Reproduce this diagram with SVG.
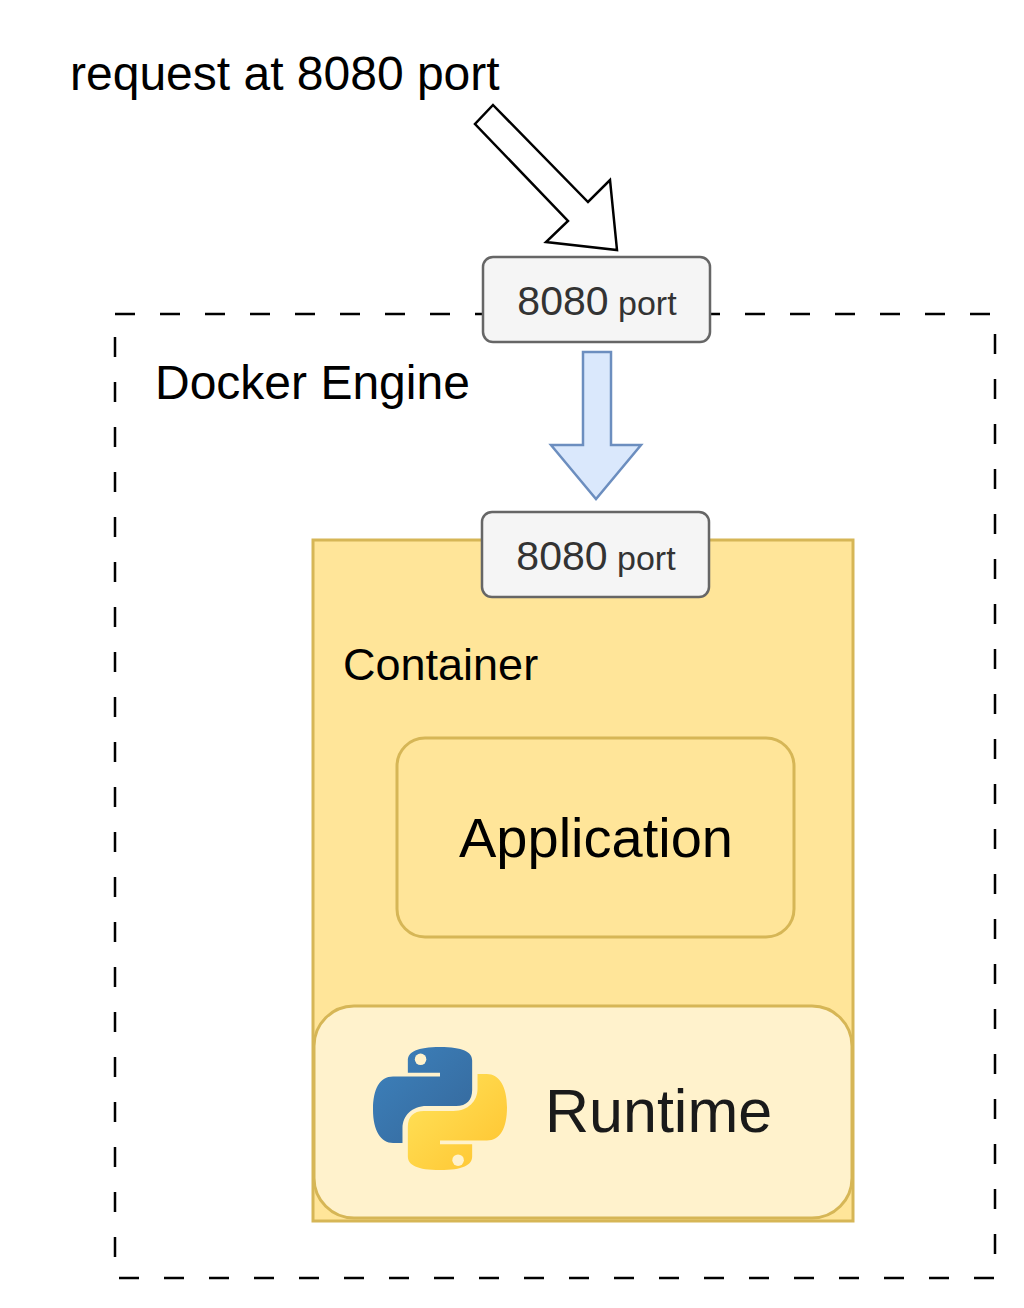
<svg xmlns="http://www.w3.org/2000/svg" width="1024" height="1308" viewBox="0 0 1024 1308">
  <style>
    text { font-family: "Liberation Sans", Arial, Helvetica, sans-serif; }
    .port { fill: #f5f5f5; stroke: #666666; stroke-width: 2.5; }
    .porttxt { fill: #333333; text-anchor: middle; }
    .yellowbox { stroke: #d6b656; stroke-width: 3; }
  </style>
  <defs>
    <linearGradient id="pyBlue" x1="0" y1="0" x2="1" y2="1">
      <stop offset="0" stop-color="#3d82bd"/>
      <stop offset="1" stop-color="#35679a"/>
    </linearGradient>
    <linearGradient id="pyYellow" x1="0" y1="0" x2="1" y2="1">
      <stop offset="0" stop-color="#ffe45c"/>
      <stop offset="1" stop-color="#ffc32e"/>
    </linearGradient>
  </defs>
  <rect width="1024" height="1308" fill="#ffffff"/>

  <g id="request-label">
    <text x="70" y="90" font-size="48" fill="#000000">request at 8080 port</text>
  </g>

  <g id="docker-engine">
    <rect x="115" y="314" width="880" height="964" fill="none" stroke="#000000" stroke-width="2.5" stroke-dasharray="20 25"/>
    <text x="155" y="399" font-size="48" fill="#000000">Docker Engine</text>
  </g>

  <g id="container">
    <rect class="yellowbox" x="313" y="540" width="540" height="681" fill="#ffe599"/>
    <text x="343" y="680" font-size="45" fill="#000000">Container</text>
  </g>

  <g id="application">
    <rect class="yellowbox" x="397" y="738" width="397" height="199" rx="28" ry="28" fill="#ffe599"/>
    <text x="596" y="857" font-size="56" fill="#000000" text-anchor="middle">Application</text>
  </g>

  <g id="runtime">
    <rect class="yellowbox" x="314" y="1006" width="538" height="212" rx="40" ry="40" fill="#fff2cc"/>
    <g transform="translate(373,1047) scale(1.34,1.23)">
      <path fill="url(#pyBlue)" d="M 50,0 C 33,0 26,4 26,11 L 26,21 L 50,21 L 50,24 L 15,24 C 5,24 0,34 0,51 C 0,68 6,78 15,78 L 22,78 L 22,66 C 22,56 29,48 40,48 L 62,48 C 70,48 74,43 74,35 L 74,11 C 74,4 67,0 50,0 Z"/>
      <path fill="url(#pyYellow)" d="M 50,100 C 67,100 74,96 74,89 L 74,79 L 50,79 L 50,76 L 85,76 C 95,76 100,66 100,49 C 100,32 94,22 85,22 L 78,22 L 78,34 C 78,44 71,52 60,52 L 38,52 C 30,52 26,57 26,65 L 26,89 C 26,96 33,100 50,100 Z"/>
      <ellipse cx="35.5" cy="10" rx="4.3" ry="4.7" fill="#fff2cc"/>
      <ellipse cx="63.5" cy="92" rx="4.3" ry="4.7" fill="#fff2cc"/>
    </g>
    <text x="545" y="1132" font-size="61" fill="#1a1a1a">Runtime</text>
  </g>

  <g id="container-port">
    <rect class="port" x="482" y="512" width="227" height="85" rx="10" ry="10"/>
    <text class="porttxt" x="596" y="570"><tspan font-size="41">8080</tspan><tspan font-size="34"> port</tspan></text>
  </g>

  <g id="host-port">
    <rect class="port" x="483" y="257" width="227" height="85" rx="10" ry="10"/>
    <text class="porttxt" x="597" y="315"><tspan font-size="41">8080</tspan><tspan font-size="34"> port</tspan></text>
  </g>

  <g id="connectors">
    <polygon points="493,105 588,202 610,180 617,250 546,242 568,221 475,124" fill="#ffffff" stroke="#000000" stroke-width="2.5" stroke-linejoin="miter"/>
    <polygon points="583,352 611,352 611,445 641,445 596,499 551,445 583,445" fill="#dae8fc" stroke="#6c8ebf" stroke-width="2.5"/>
  </g>
</svg>
